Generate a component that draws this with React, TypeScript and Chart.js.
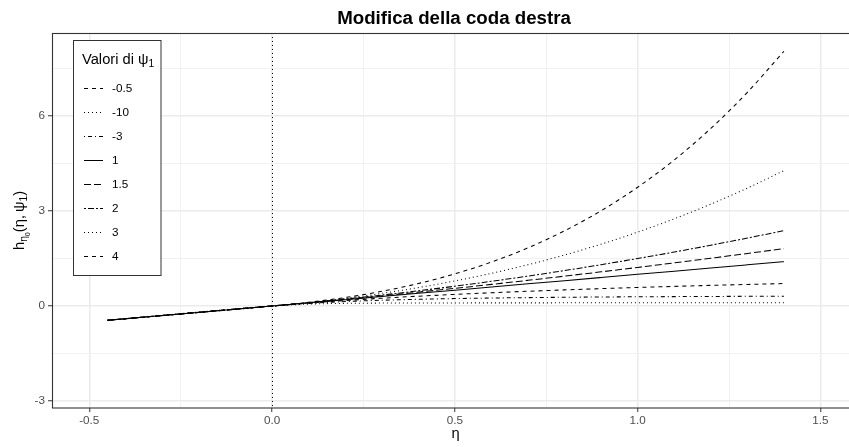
import React, { useEffect, useRef } from 'react';
import { Chart, registerables } from 'chart.js';

Chart.register(...registerables);

// ---------- data ----------
const eta = [-0.45, 0, 0.1, 0.2, 0.3, 0.4, 0.5, 0.6, 0.7, 0.8, 0.9, 1.0, 1.1, 1.2, 1.3, 1.4];
const psiLabels = ['-0.5', '-10', '-3', '1', '1.5', '2', '3', '4'];
const hPsiMinus05 = [-0.45, 0, 0.093, 0.174, 0.246, 0.31, 0.367, 0.419, 0.466, 0.509, 0.549, 0.586, 0.62, 0.652, 0.681, 0.709];
const hPsiMinus10 = [-0.45, 0, 0.061, 0.084, 0.093, 0.097, 0.098, 0.099, 0.0995, 0.1, 0.1, 0.1, 0.1, 0.1, 0.1, 0.1];
const hPsiMinus3 = [-0.45, 0, 0.083, 0.14, 0.182, 0.212, 0.235, 0.252, 0.265, 0.276, 0.285, 0.292, 0.297, 0.302, 0.306, 0.309];
const hPsi1 = [-0.45, 0, 0.1, 0.2, 0.3, 0.4, 0.5, 0.6, 0.7, 0.8, 0.9, 1.0, 1.1, 1.2, 1.3, 1.4];
const hPsi15 = [-0.45, 0, 0.102, 0.21, 0.321, 0.438, 0.558, 0.683, 0.811, 0.943, 1.079, 1.219, 1.362, 1.509, 1.659, 1.812];
const hPsi2 = [-0.45, 0, 0.105, 0.22, 0.345, 0.48, 0.625, 0.78, 0.945, 1.12, 1.305, 1.5, 1.705, 1.92, 2.145, 2.38];
const hPsi3 = [-0.45, 0, 0.11, 0.243, 0.399, 0.581, 0.792, 1.032, 1.304, 1.611, 1.953, 2.333, 2.754, 3.216, 3.722, 4.275];
const hPsi4 = [-0.45, 0, 0.116, 0.268, 0.464, 0.71, 1.016, 1.388, 1.838, 2.374, 3.008, 3.75, 4.612, 5.606, 6.746, 8.044];
const seriesValues = [hPsiMinus05, hPsiMinus10, hPsiMinus3, hPsi1, hPsi15, hPsi2, hPsi3, hPsi4];

const xMajor = [-0.5, 0, 0.5, 1.0, 1.5];
const xTickLabels = ['-0.5', '0.0', '0.5', '1.0', '1.5'];
const xMinor = [-0.25, 0.25, 0.75, 1.25];
const yMajor = [-3, 0, 3, 6];
const yTickLabels = ['-3', '0', '3', '6'];
const yMinor = [-1.5, 1.5, 4.5, 7.5];
const zeroLine = 0;

const titleText = 'Modifica della coda destra';

// ---------- styles ----------
const FONT = '"Liberation Sans", Arial, sans-serif';
const dashes: Record<string, number[]> = {
  dashed: [4, 4],
  dotted: [1, 3],
  dotdash: [1, 3, 4, 3],
  solid: [],
  longdash: [7, 3],
  twodash: [2, 2, 6, 2],
};
const lineTypes = ['dashed', 'dotted', 'dotdash', 'solid', 'longdash', 'twodash', 'dotted', 'dashed'];

type Part = { t: string; s: number; dy?: number };

function richWidth(ctx: CanvasRenderingContext2D, parts: Part[]) {
  let w = 0;
  for (const p of parts) {
    ctx.font = `${p.s}px ${FONT}`;
    w += ctx.measureText(p.t).width;
  }
  return w;
}
function drawRich(ctx: CanvasRenderingContext2D, parts: Part[], x: number, y: number) {
  let cx = x;
  ctx.textBaseline = 'alphabetic';
  ctx.textAlign = 'left';
  for (const p of parts) {
    ctx.font = `${p.s}px ${FONT}`;
    ctx.fillText(p.t, cx, y + (p.dy || 0));
    cx += ctx.measureText(p.t).width;
  }
}

const overlay = {
  id: 'overlay',
  beforeDatasetsDraw(chart: any) {
    const { ctx, chartArea, scales } = chart;
    const x = Math.round(scales.x.getPixelForValue(zeroLine)) + 0.5;
    ctx.save();
    ctx.strokeStyle = '#000';
    ctx.lineWidth = 1;
    ctx.setLineDash([1, 3]);
    ctx.beginPath();
    ctx.moveTo(x, chartArea.top);
    ctx.lineTo(x, chartArea.bottom);
    ctx.stroke();
    ctx.restore();
  },
  afterDraw(chart: any) {
    const { ctx, chartArea } = chart;
    ctx.save();
    // panel border
    ctx.strokeStyle = '#333333';
    ctx.lineWidth = 1.1;
    ctx.setLineDash([]);
    ctx.strokeRect(chartArea.left + 0.5, chartArea.top + 0.5, chartArea.right - chartArea.left + 5, chartArea.bottom - chartArea.top - 0.5);

    // title
    ctx.fillStyle = '#000';
    ctx.font = `bold 18.7px ${FONT}`;
    ctx.textAlign = 'center';
    ctx.textBaseline = 'alphabetic';
    ctx.fillText(titleText, 454, 24);

    // x title
    ctx.font = `14.7px ${FONT}`;
    ctx.fillText('η', 455.5, 438);

    // y title
    const yParts: Part[] = [
      { t: 'h', s: 14.7 },
      { t: 'η', s: 10.3, dy: 3 },
      { t: '0', s: 7.2, dy: 5.5 },
      { t: '(η,\u2009ψ', s: 14.7 },
      { t: '1', s: 10.3, dy: 3 },
      { t: ')', s: 14.7 },
    ];
    ctx.save();
    ctx.translate(24, (chartArea.top + chartArea.bottom) / 2);
    ctx.rotate(-Math.PI / 2);
    const w = richWidth(ctx, yParts);
    drawRich(ctx, yParts, -w / 2, 0);
    ctx.restore();

    // legend
    const lx = 73.5, ly = 40.5, lw = 87.5, lh = 235;
    ctx.fillStyle = '#fff';
    ctx.fillRect(lx, ly, lw, lh);
    ctx.strokeStyle = '#333333';
    ctx.lineWidth = 1;
    ctx.strokeRect(lx, ly, lw, lh);
    ctx.fillStyle = '#000';
    drawRich(ctx, [{ t: 'Valori di ψ', s: 14.7 }, { t: '1', s: 10.3, dy: 3 }], 82, 63.5);
    chart.data.datasets.forEach((ds: any, i: number) => {
      const y = 88 + 24 * i;
      ctx.strokeStyle = '#000';
      ctx.lineWidth = 1;
      ctx.setLineDash(ds.borderDash || []);
      ctx.beginPath();
      ctx.moveTo(84, Math.round(y) + 0.5);
      ctx.lineTo(103, Math.round(y) + 0.5);
      ctx.stroke();
      ctx.setLineDash([]);
      ctx.font = `11.7px ${FONT}`;
      ctx.textAlign = 'left';
      ctx.textBaseline = 'middle';
      ctx.fillStyle = '#000';
      ctx.fillText(ds.label, 112, y + 0.5);
    });
    ctx.restore();
  },
};

const isIn = (arr: number[], v: number) => arr.some((a) => Math.abs(a - v) < 1e-9);

export default function App() {
  const ref = useRef<HTMLCanvasElement>(null);
  useEffect(() => {
    const datasets = psiLabels.map((lab, i) => ({
      label: lab,
      data: eta.map((x, j) => ({ x, y: seriesValues[i][j] })),
      borderColor: '#000',
      borderWidth: 1.05,
      borderDash: dashes[lineTypes[i]],
      pointRadius: 0,
      fill: false,
      cubicInterpolationMode: 'monotone' as const,
    }));
    const gridColor = (major: number[]) => (c: any) => (isIn(major, c.tick?.value) ? '#EBEBEB' : '#F1F1F1');
    const gridWidth = (major: number[]) => (c: any) => (isIn(major, c.tick?.value) ? 1.5 : 1);
    const tickColor = (major: number[]) => (c: any) => (isIn(major, c.tick?.value) ? '#333333' : 'rgba(0,0,0,0)');
    const chart = new Chart(ref.current!, {
      type: 'line',
      data: { datasets },
      plugins: [overlay],
      options: {
        responsive: false,
        animation: false,
        devicePixelRatio: 1,
        events: [],
        layout: { padding: { top: 33, right: 0, left: 0, bottom: 0 } },
        plugins: { legend: { display: false }, title: { display: false }, tooltip: { enabled: false } },
        scales: {
          x: {
            type: 'linear',
            min: -0.602,
            max: 1.578,
            afterBuildTicks: (s: any) => {
              s.ticks = [...xMajor, ...xMinor].sort((a, b) => a - b).map((v) => ({ value: v }));
            },
            afterFit: (s: any) => {
              s.height = 39;
            },
            border: { display: false },
            grid: {
              color: gridColor(xMajor),
              lineWidth: gridWidth(xMajor),
              tickColor: tickColor(xMajor),
              tickWidth: 1,
              tickLength: 4,
            },
            ticks: {
              autoSkip: false,
              maxRotation: 0,
              padding: 1.5,
              color: '#4D4D4D',
              font: { family: FONT, size: 11.7 },
              callback: (v: any) => {
                const k = xMajor.findIndex((m) => Math.abs(m - v) < 1e-9);
                return k >= 0 ? xTickLabels[k] : '';
              },
            },
          },
          y: {
            type: 'linear',
            min: -3.22,
            max: 8.62,
            afterBuildTicks: (s: any) => {
              s.ticks = [...yMajor, ...yMinor].sort((a, b) => a - b).map((v) => ({ value: v }));
            },
            afterFit: (s: any) => {
              s.width = 52;
            },
            border: { display: false },
            grid: {
              color: gridColor(yMajor),
              lineWidth: gridWidth(yMajor),
              tickColor: tickColor(yMajor),
              tickWidth: 1,
              tickLength: 4,
            },
            ticks: {
              autoSkip: false,
              padding: 3,
              color: '#4D4D4D',
              font: { family: FONT, size: 11.7 },
              callback: (v: any) => {
                const k = yMajor.findIndex((m) => Math.abs(m - v) < 1e-9);
                return k >= 0 ? yTickLabels[k] : '';
              },
            },
          },
        },
      } as any,
    });
    return () => chart.destroy();
  }, []);
  return (
    <div style={{ position: 'absolute', left: 0, top: 0, width: 849, height: 447, background: '#fff' }}>
      <canvas ref={ref} width={849} height={447} style={{ display: 'block' }} />
    </div>
  );
}
